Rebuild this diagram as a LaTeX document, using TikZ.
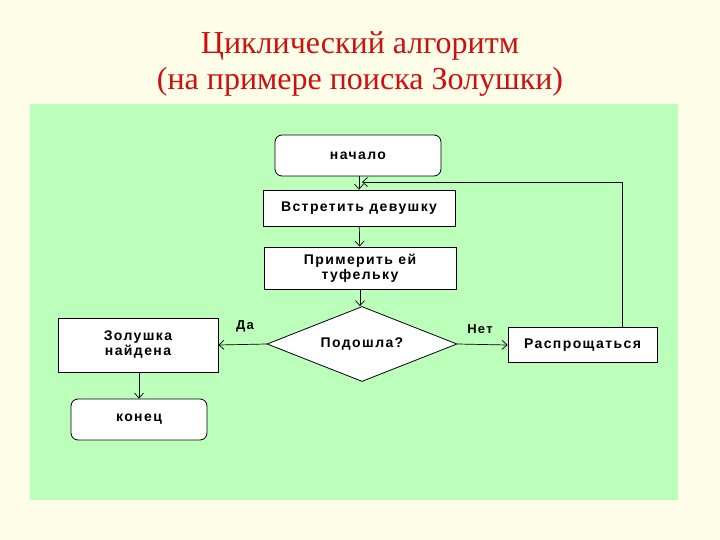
\documentclass[tikz,border=0pt]{standalone}
\usepackage{fontspec}
\setmainfont{Liberation Serif}
\newfontfamily\boxfont[LetterSpace=10]{Liberation Sans Bold}
\usetikzlibrary{shapes.geometric,arrows.meta}
\definecolor{bgcream}{HTML}{FEFDE8}
\definecolor{panelgreen}{HTML}{BBFFBB}
\definecolor{titlered}{HTML}{CC1010}
\tikzset{
  box/.style={draw=black, line width=0.8pt, fill=white, minimum width=#1, inner sep=0pt, align=center, font=\boxfont\fontsize{14}{15}\selectfont},
  rbox/.style={box=#1, rounded corners=7pt},
  flow/.style={draw=black, line width=0.7pt, -{Straight Barb[length=5pt,width=9pt]}},
  lbl/.style={font=\boxfont\fontsize{13}{14}\selectfont, inner sep=0pt},
}
\begin{document}
\begin{tikzpicture}[x=1pt,y=-1pt]
\useasboundingbox (0,0) rectangle (720,540);
\fill[bgcream] (0,0) rectangle (720,540);
\fill[panelgreen] (30,104) rectangle (678,500);
\node[text=titlered, align=center, font=\fontsize{32}{36}\selectfont] (title) at (360,64) {Циклический алгоритм\\(на примере поиска Золушки)};
\node[rbox=166pt, minimum height=41pt] (start) at (358,155.5) {начало};
\node[box=192pt, minimum height=36pt] (meet) at (359,208) {Встретить девушку};
\node[box=192pt, minimum height=42pt] (try) at (360,268) {Примерить ей\\туфельку};
\node[diamond, draw=black, line width=0.8pt, fill=white, minimum width=190pt, minimum height=75pt, aspect=2.5, inner sep=0pt, font=\boxfont\fontsize{14}{15}\selectfont] (fit) at (362,344) {Подошла?};
\node[box=149pt, minimum height=35pt] (bye) at (582.5,345) {Распрощаться};
\node[box=160pt, minimum height=54pt] (found) at (138,345) {Золушка\\найдена};
\node[rbox=136pt, minimum height=41pt] (end) at (139,419.5) {конец};
\coordinate (loopturn) at (622,182);
\coordinate (loopend) at (362,182);
\draw[flow] (start.south -| meet.north) -- (meet.north);
\draw[flow] (meet) -- (try);
\draw[flow] (try.south) -- (try.south |- fit.north);
\draw[flow] (fit.west) -- (found.east) node[lbl, pos=0.45, above=12pt] {Да};
\draw[flow] (fit.east) -- (bye.west) node[lbl, pos=0.45, above=10pt] {Нет};
\draw[flow] (found.south -| end.north) -- (end.north);
\draw[flow] (loopturn |- bye.north) -- (loopturn) -- (loopend);
\end{tikzpicture}
\end{document}
